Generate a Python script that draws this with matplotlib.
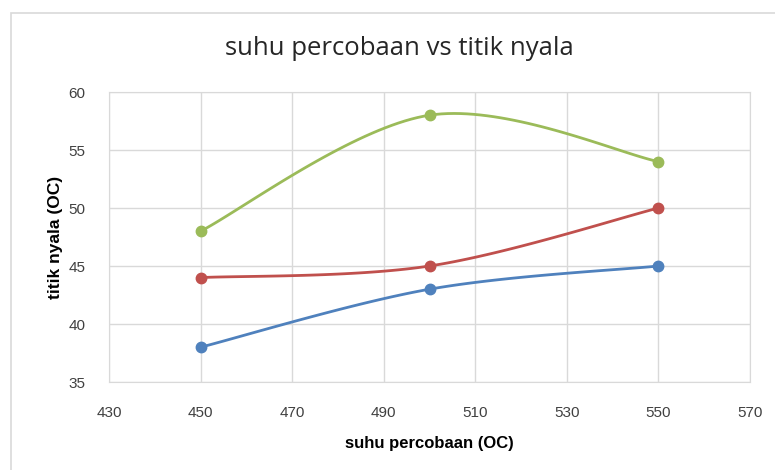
import numpy as np
import matplotlib.pyplot as plt
from matplotlib.patches import Rectangle

# data
suhu = [450, 500, 550]
seri_biru = [38, 43, 45]
seri_merah = [44, 45, 50]
seri_hijau = [48, 58, 54]
warna = ['#4F81BD', '#C0504D', '#9BBB59']

x_ticks = [430, 450, 470, 490, 510, 530, 550, 570]
y_ticks = [35, 40, 45, 50, 55, 60]


def smooth(xs, ys, n=40):
    # Excel-style bezier smoothing between the points
    pts = np.column_stack([xs, ys]).astype(float)
    out = [pts[0]]
    for i in range(len(pts) - 1):
        p0 = pts[max(i - 1, 0)]
        p1 = pts[i]
        p2 = pts[i + 1]
        p3 = pts[min(i + 2, len(pts) - 1)]
        c1 = p1 + (p2 - p0) / 6
        c2 = p2 - (p3 - p1) / 6
        t = np.linspace(0, 1, n)[1:, None]
        seg = ((1 - t) ** 3) * p1 + 3 * ((1 - t) ** 2) * t * c1 + 3 * (1 - t) * t ** 2 * c2 + t ** 3 * p2
        out.extend(seg)
    out = np.array(out)
    return out[:, 0], out[:, 1]


fam = ['Liberation Sans Narrow', 'Liberation Sans', 'DejaVu Sans']

fig = plt.figure(figsize=(7.75, 4.7), dpi=100)
fig.patches.append(Rectangle((11 / 775, -0.1), 1.0, (470 - 13) / 470 + 0.1,
                             transform=fig.transFigure, fill=False,
                             edgecolor='#D9D9D9', linewidth=1.2))
ax = fig.add_axes([109 / 775, 88 / 470, 641 / 775, 290 / 470])

for ys, c in zip([seri_biru, seri_merah, seri_hijau], warna):
    sx, sy = smooth(suhu, ys)
    ax.plot(sx, sy, color=c, linewidth=2, solid_capstyle='round')
    ax.plot(suhu, ys, 'o', color=c, markersize=7.5)

ax.set_xlim(430, 570)
ax.set_ylim(35, 60)
ax.set_xticks(x_ticks)
ax.set_yticks(y_ticks)
ax.grid(True, color='#D9D9D9', linewidth=1)
ax.set_axisbelow(True)
for s in ax.spines.values():
    s.set_color('#D9D9D9')
ax.tick_params(length=0, labelsize=11, labelcolor='#404040')
for lab in ax.get_xticklabels() + ax.get_yticklabels():
    lab.set_family(fam)
ax.xaxis.set_tick_params(pad=17)
ax.yaxis.set_tick_params(pad=17)

ax.set_xlabel('suhu percobaan (OC)', fontsize=12, fontweight='bold', labelpad=12, family=fam)
ax.set_ylabel('titik nyala (OC)', fontsize=12.5, fontweight='bold', labelpad=4, family=fam)
fig.text(0.515, 0.897, 'suhu percobaan vs titik nyala', ha='center', va='center',
         fontsize=18.5, color='#262626', family=['Open Sans', 'DejaVu Sans'])

fig.savefig('out.png', dpi=100)
